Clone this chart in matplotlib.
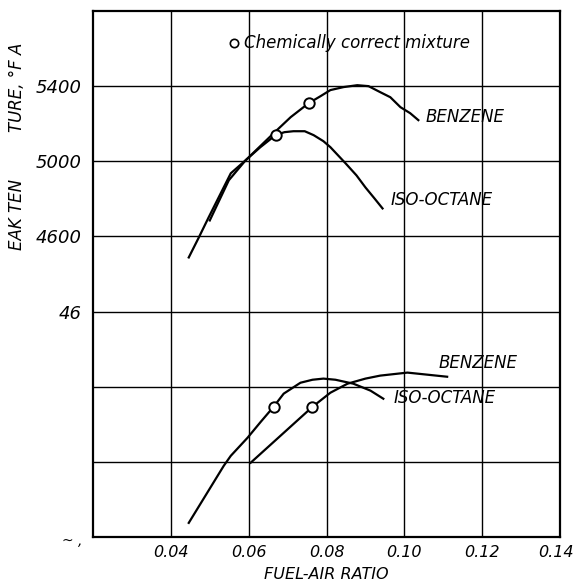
import matplotlib.pyplot as plt
import matplotlib.transforms as mtransforms

# ----------------------------------------------------------------
# values

# upper group
iso_top_x = [0.0446, 0.0472, 0.0497, 0.0554, 0.0592, 0.0630, 0.0669, 0.0692, 0.0715, 0.0744,
             0.0767, 0.0792, 0.0810, 0.0849, 0.0877, 0.0900, 0.0923, 0.0944]
iso_top_y = [4488, 4595, 4701, 4936, 5005, 5075, 5139, 5155, 5160, 5160,
             5139, 5107, 5075, 4989, 4925, 4861, 4803, 4749]
benz_top_x = [0.0500, 0.0549, 0.0592, 0.0664, 0.0708, 0.0754, 0.0785, 0.0810, 0.0844, 0.0879,
              0.0908, 0.0938, 0.0964, 0.0990, 0.1015, 0.1036]
benz_top_y = [4685, 4899, 5005, 5149, 5235, 5309, 5347, 5379, 5395, 5405,
              5400, 5368, 5341, 5288, 5256, 5219]

# lower group
iso_low_x = [0.0446, 0.0536, 0.0554, 0.0597, 0.0631, 0.0664, 0.0690, 0.0733, 0.0764, 0.0792,
             0.0823, 0.0869, 0.0913, 0.0946]
iso_low_y = [3075, 3379, 3432, 3528, 3613, 3693, 3763, 3821, 3837, 3843,
             3837, 3816, 3779, 3736]
benz_low_x = [0.0605, 0.0764, 0.0810, 0.0854, 0.0900, 0.0938, 0.1008, 0.1110]
benz_low_y = [3395, 3693, 3768, 3816, 3843, 3859, 3875, 3853]

# chemically correct mixture points
chem_x = [0.0669, 0.0754, 0.0664, 0.0764]
chem_y = [5139, 5309, 3693, 3693]

x_ticks = [0.04, 0.06, 0.08, 0.10, 0.12, 0.14]
x_labels = ['0.04', '0.06', '0.08', '0.10', '0.12', '0.14']
y_ticks = [5400, 5000, 4600, 4200]
y_labels = ['5400', '5000', '4600', '46']

# ----------------------------------------------------------------

plt.rcParams['font.family'] = 'DejaVu Sans'
plt.rcParams['font.style'] = 'italic'

fig = plt.figure(figsize=(5.76, 5.85), dpi=100)
ax = fig.add_axes([0.1615, 0.0821, 0.8107, 0.8991])

ax.set_xlim(0.02, 0.14)
ax.set_ylim(3000, 5800)

# grid every 0.02 / 400 deg
for gx in [0.04, 0.06, 0.08, 0.10, 0.12]:
    ax.axvline(gx, color='black', lw=1.0, zorder=1)
for gy in [3400, 3800, 4200, 4600, 5000, 5400]:
    ax.axhline(gy, color='black', lw=1.0, zorder=1)

for s in ax.spines.values():
    s.set_linewidth(1.6)

line_kw = dict(color='black', lw=1.6, zorder=3, solid_joinstyle='round')
ax.plot(iso_top_x, iso_top_y, **line_kw)
ax.plot(benz_top_x, benz_top_y, **line_kw)
ax.plot(iso_low_x, iso_low_y, **line_kw)
ax.plot(benz_low_x, benz_low_y, **line_kw)

ax.plot(chem_x, chem_y, 'o', ms=7.5, mfc='white', mec='black', mew=1.4, zorder=4)

# legend entry
ax.plot([0.0562], [5629], 'o', ms=6, mfc='white', mec='black', mew=1.2, zorder=4)
ax.text(0.0587, 5629, 'Chemically correct mixture', fontsize=12, va='center', ha='left')

ax.text(0.1054, 5235, 'BENZENE', fontsize=12, va='center', ha='left')
ax.text(0.0964, 4792, 'ISO-OCTANE', fontsize=12, va='center', ha='left')
ax.text(0.1087, 3928, 'BENZENE', fontsize=12, va='center', ha='left')
ax.text(0.0972, 3741, 'ISO-OCTANE', fontsize=12, va='center', ha='left')

ax.set_xticks(x_ticks)
ax.set_xticklabels(x_labels, fontsize=11.5)
ax.set_yticks(y_ticks)
ax.set_yticklabels(y_labels, fontsize=13)
ax.tick_params(axis='y', length=0, pad=8)
ax.tick_params(axis='x', length=0, pad=6)

# nudge the last label so it stays inside the picture
last = ax.get_xticklabels()[-1]
last.set_transform(last.get_transform() + mtransforms.ScaledTranslation(-4 / 100, 0, fig.dpi_scale_trans))

ax.set_xlabel('FUEL-AIR RATIO', fontsize=11.5, labelpad=5)

# cut off axis title fragments
fig.text(0.030, 1 - 87 / 585, 'TURE, °F A', rotation=90, fontsize=12, ha='center', va='center')
fig.text(0.030, 1 - 215 / 585, 'EAK TEN', rotation=90, fontsize=12, ha='center', va='center')
fig.text(0.125, 1 - 541 / 585, '~ ,', fontsize=10, ha='center', va='center')

fig.savefig('out.png', dpi=100)
